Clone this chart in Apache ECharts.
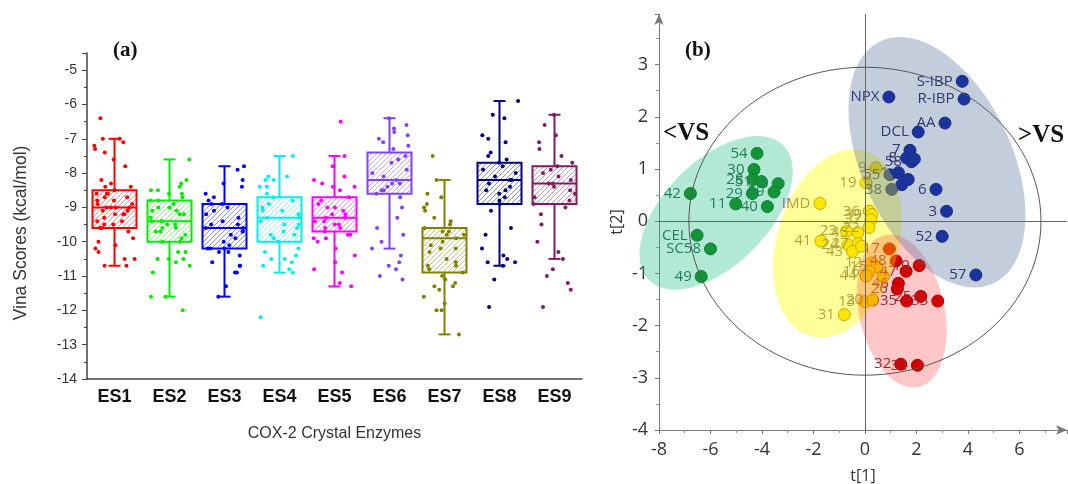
<!DOCTYPE html>
<html><head><meta charset="utf-8">
<script src="https://cdn.jsdelivr.net/npm/echarts@6.0.0/dist/echarts.min.js"></script>
<style>html,body{margin:0;padding:0;background:#fff}#c{width:1068px;height:484px}</style>
</head><body><div id="c"></div>
<script>
// ---------- Panel (a) data ----------
const categories = ['ES1','ES2','ES3','ES4','ES5','ES6','ES7','ES8','ES9'];
const boxColors = ['#ff0000','#00ee00','#0000ff','#00f0f0','#ff00ff','#8040ff','#808000','#000080','#801a66'];
// [low whisker, Q1, median, Q3, high whisker]
const boxStats = [
  [-10.7,-9.6,-9.0,-8.5,-7.0],
  [-11.6,-10.0,-9.4,-8.8,-7.6],
  [-11.6,-10.2,-9.6,-8.9,-7.8],
  [-10.9,-10.0,-9.3,-8.7,-7.5],
  [-11.3,-9.7,-9.3,-8.7,-7.5],
  [-10.2,-8.6,-8.2,-7.4,-6.4],
  [-12.7,-10.9,-9.9,-9.6,-8.2],
  [-10.7,-8.9,-8.2,-7.7,-5.9],
  [-10.5,-8.9,-8.3,-7.8,-6.3]
];
const es1Scores = [-6.4,-7.0,-7.0,-7.1,-7.2,-7.3,-7.4,-7.6,-7.8,-8.2,-8.3,-8.4,-8.4,-8.5,-8.6,-8.6,-8.6,-8.7,-8.7,-8.8,-8.8,-8.9,-8.9,-9.0,-9.0,-9.0,-9.0,-9.1,-9.1,-9.2,-9.2,-9.2,-9.3,-9.4,-9.4,-9.5,-9.5,-9.6,-9.6,-9.7,-9.9,-10.0,-10.1,-10.2,-10.3,-10.5,-10.5,-10.7,-10.7];
const es2Scores = [-7.6,-8.2,-8.3,-8.4,-8.5,-8.5,-8.6,-8.6,-8.7,-8.8,-8.8,-8.9,-9.0,-9.0,-9.1,-9.1,-9.2,-9.2,-9.3,-9.4,-9.4,-9.4,-9.5,-9.5,-9.6,-9.6,-9.7,-9.7,-9.8,-9.9,-10.0,-10.0,-10.3,-10.3,-10.5,-10.5,-10.5,-10.6,-10.7,-10.9,-11.6,-11.6,-12.0];
const es3Scores = [-7.8,-7.9,-8.2,-8.3,-8.4,-8.6,-8.7,-8.8,-8.9,-8.9,-9.0,-9.1,-9.2,-9.3,-9.4,-9.5,-9.5,-9.6,-9.6,-9.7,-9.7,-9.8,-9.9,-10.0,-10.1,-10.2,-10.2,-10.2,-10.3,-10.3,-10.4,-10.6,-10.7,-10.7,-10.9,-10.9,-11.3,-11.6];
const es4Scores = [-7.5,-8.1,-8.1,-8.2,-8.2,-8.4,-8.4,-8.6,-8.7,-8.8,-8.9,-9.0,-9.1,-9.1,-9.2,-9.3,-9.3,-9.4,-9.5,-9.5,-9.6,-9.7,-9.8,-9.8,-9.9,-10.0,-10.2,-10.3,-10.4,-10.5,-10.5,-10.6,-10.7,-10.8,-10.9,-12.2];
const es5Scores = [-6.5,-7.5,-7.8,-8.1,-8.2,-8.3,-8.4,-8.4,-8.5,-8.7,-8.8,-8.9,-9.0,-9.0,-9.1,-9.2,-9.2,-9.3,-9.3,-9.4,-9.4,-9.5,-9.5,-9.6,-9.6,-9.7,-9.8,-9.8,-9.9,-9.9,-10.0,-10.2,-10.4,-10.6,-10.8,-10.9,-11.2,-11.3];
const es6Scores = [-6.4,-6.6,-6.7,-6.8,-6.9,-7.0,-7.1,-7.2,-7.3,-7.5,-7.6,-7.7,-7.9,-8.0,-8.1,-8.2,-8.3,-8.3,-8.4,-8.5,-8.5,-8.6,-8.7,-9.0,-9.3,-9.6,-9.8,-10.0,-10.2,-10.4,-10.6,-10.7,-10.8,-11.0,-11.1];
const es7Scores = [-7.5,-8.2,-8.6,-8.7,-8.9,-9.0,-9.1,-9.3,-9.4,-9.5,-9.6,-9.7,-9.7,-9.8,-9.8,-9.9,-10.0,-10.1,-10.2,-10.2,-10.3,-10.5,-10.6,-10.7,-10.7,-10.8,-10.9,-11.0,-11.1,-11.2,-11.3,-11.3,-11.4,-11.6,-11.8,-12.0,-12.0,-12.7];
const es8Scores = [-5.9,-6.3,-6.4,-6.9,-7.0,-7.1,-7.4,-7.5,-7.6,-7.7,-7.8,-7.9,-8.0,-8.1,-8.2,-8.2,-8.3,-8.4,-8.5,-8.5,-8.6,-8.7,-8.8,-8.9,-9.1,-9.6,-9.8,-10.2,-10.4,-10.5,-10.6,-10.6,-10.7,-11.1,-11.9];
const es9Scores = [-6.3,-6.6,-6.9,-7.1,-7.3,-7.5,-7.7,-7.8,-7.9,-8.0,-8.1,-8.2,-8.3,-8.3,-8.4,-8.5,-8.6,-8.7,-8.8,-8.9,-9.0,-9.2,-9.5,-10.0,-10.3,-10.5,-10.8,-11.0,-11.2,-11.4,-11.9];
const allScores = [es1Scores,es2Scores,es3Scores,es4Scores,es5Scores,es6Scores,es7Scores,es8Scores,es9Scores];

// ---------- Panel (b) data: [label, t1, t2] ----------
const greenPts = [['42',-6.78,0.53],['54',-4.19,1.30],['30',-4.31,0.99],['28',-4.35,0.80],['51',-4.02,0.76],['5',-3.37,0.72],['29',-4.37,0.53],['59',-3.53,0.56],['11',-5.02,0.33],['40',-3.79,0.28],['CEL',-6.52,-0.27],['SC58',-6.0,-0.53],['49',-6.36,-1.06]];
const bluePts = [['NPX',0.93,2.38],['S-IBP',3.78,2.68],['R-IBP',3.85,2.34],['AA',3.11,1.88],['DCL',2.07,1.71],['7',1.75,1.36],['8',1.62,1.21],['58',1.81,1.14],['',1.92,1.19],['1',1.30,0.93],['55',0.97,0.89],['',1.43,0.70],['',1.68,0.80],['38',1.04,0.61],['6',2.76,0.61],['3',3.17,0.19],['52',3.0,-0.29],['57',4.31,-1.03]];
const yellowPts = [['9',0.43,1.02],['19',0.04,0.74],['IMD',-1.75,0.34],['36',0.17,0.19],['39',0.26,0.13],['37',0.23,0.03],['22',0.16,-0.12],['23',-0.71,-0.19],['45',-0.28,-0.22],['41',-1.71,-0.38],['24',-0.65,-0.45],['27',-0.26,-0.43],['43',-0.48,-0.58],['',-0.13,-0.48],['12',0.26,-0.80],['15',0.45,-0.87],['16',0.17,-0.96],['44',0.05,-1.05],['',0.71,-1.06],['13',0.0,-1.54],['20',0.30,-1.51],['31',-0.80,-1.79]];
const redPts = [['17',0.95,-0.53],['48',1.21,-0.76],['10',2.11,-0.85],['47',1.60,-0.96],['46',1.30,-1.19],['26',1.26,-1.30],['25',2.17,-1.44],['35',1.62,-1.53],['33',2.83,-1.53],['32',1.39,-2.74],['34',2.04,-2.76]];
// ellipses: [cx, cy, ux, uy, vx, vy] (centre and two half-axis vectors in t1/t2 units)
const groupEllipses = [
  [-5.78,0.16,2.61,1.29,1.43,-0.707],
  [-1.07,-0.427,1.07,1.77,2.26,-0.333],
  [1.43,-1.72,-0.65,1.456,1.62,0.177],
  [2.80,1.13,-2.20,2.32,2.64,0.613]
];
const ellipseFills = ['rgba(35,192,132,0.35)','rgba(255,255,0,0.4)','rgba(255,0,0,0.22)','rgba(72,98,145,0.32)'];
const hotelling = [[0,0,6.84,0,0,2.95]];

// ---------- helpers ----------
function hatch(color){
  const c=document.createElement('canvas'); c.width=5; c.height=5;
  const g=c.getContext('2d'); g.strokeStyle=color; g.globalAlpha=0.45; g.lineWidth=1;
  g.beginPath(); g.moveTo(0,5); g.lineTo(5,0); g.moveTo(-1,1); g.lineTo(1,-1); g.moveTo(4,6); g.lineTo(6,4); g.stroke();
  return {image:c, repeat:'repeat'};
}
const patterns = boxColors.map(hatch);
const boxData = boxStats.map((s,i)=>[i].concat(s));
const jitterData = [];
allScores.forEach((arr,i)=>arr.forEach(v=>jitterData.push([i,v])));

function ellipseRender(fills, strokeCol){
  return function(params, api){
    const cx=api.value(0), cy=api.value(1), ux=api.value(2), uy=api.value(3), vx=api.value(4), vy=api.value(5);
    const pts=[];
    for(let k=0;k<120;k++){
      const t=k/120*Math.PI*2;
      pts.push(api.coord([cx+ux*Math.cos(t)+vx*Math.sin(t), cy+uy*Math.cos(t)+vy*Math.sin(t)]));
    }
    return {type:'polygon', shape:{points:pts},
      style: fills ? {fill:fills[params.dataIndex], stroke:null} : {fill:null, stroke:strokeCol, lineWidth:1}};
  };
}
function ptSeries(name, pts, fill, border, labelCol){
  return {type:'scatter', name, xAxisIndex:1, yAxisIndex:1, z:2,
    data: pts.map(p=>[p[1],p[2],p[0]]), symbolSize:12,
    itemStyle:{color:fill, borderColor:border, borderWidth:1, opacity:1},
    label:{show:true, position:'left', distance:3, formatter:p=>p.value[2], color:labelCol,
      fontFamily:'Open Sans', fontSize:15},
    emphasis:{disabled:true}};
}

const chart = echarts.init(document.getElementById('c'), null, {renderer:'canvas'});
const axisA = '#444';
const option = {
  animation:false,
  grid:[
    {left:87, top:53, width:495, height:326, outerBoundsMode:'none', containLabel:false},
    {left:659, top:14, width:408, height:416, outerBoundsMode:'none', containLabel:false}
  ],
  xAxis:[
    {type:'category', gridIndex:0, data:categories, jitter:42,
      axisLine:{lineStyle:{color:axisA,width:1.5}},
      axisTick:{alignWithLabel:true, length:6, lineStyle:{color:axisA,width:1.5}},
      axisLabel:{margin:9, color:'#111', fontWeight:'bold', fontSize:18, fontFamily:'Liberation Sans'},
      name:'COX-2 Crystal Enzymes', nameLocation:'middle', nameGap:47,
      nameTextStyle:{fontSize:16, color:'#333', fontFamily:'Liberation Sans'},
      splitLine:{show:false}},
    {type:'value', gridIndex:1, min:-8, max:7.85, interval:2,
      axisLine:{onZero:false, symbol:['none','arrow'], symbolSize:[7,11], lineStyle:{color:'#777'}},
      axisTick:{length:4, lineStyle:{color:'#777'}},
      minorTick:{show:true, splitNumber:2, length:3, lineStyle:{color:'#999'}},
      axisLabel:{margin:11, color:'#333', fontSize:18, fontFamily:'Open Sans', showMaxLabel:false},
      name:'t[1]', nameLocation:'middle', nameGap:38,
      nameTextStyle:{fontSize:16, color:'#333', fontFamily:'Open Sans'},
      splitLine:{show:false}}
  ],
  yAxis:[
    {type:'value', gridIndex:0, min:-14, max:-4.5, interval:1,
      axisLine:{show:true, lineStyle:{color:axisA,width:1.5}},
      axisTick:{show:true, length:5, lineStyle:{color:axisA}},
      minorTick:{show:true, splitNumber:2, length:3, lineStyle:{color:axisA}},
      axisLabel:{margin:10, color:'#333', fontSize:14, fontFamily:'Liberation Sans', showMaxLabel:false},
      splitLine:{show:false}},
    {type:'value', gridIndex:1, min:-4, max:3.97, interval:1,
      axisLine:{onZero:false, show:true, symbol:['none','arrow'], symbolSize:[7,11], lineStyle:{color:'#777'}},
      axisTick:{show:true, length:4, lineStyle:{color:'#777'}},
      minorTick:{show:true, splitNumber:2, length:3, lineStyle:{color:'#999'}},
      axisLabel:{margin:11, color:'#333', fontSize:18, fontFamily:'Open Sans', showMaxLabel:false},
      name:'t[2]', nameLocation:'middle', nameGap:34,
      nameTextStyle:{fontSize:16, color:'#333', fontFamily:'Open Sans'},
      splitLine:{show:false}}
  ],
  graphic:[
    {type:'text', left:113, top:40, style:{text:'(a)', font:'bold 21px "Liberation Serif"', fill:'#111'}},
    {type:'text', x:21, y:233, rotation:Math.PI/2, style:{text:'Vina Scores (kcal/mol)', font:'17.5px "Liberation Sans"', fill:'#333', align:'center', verticalAlign:'middle'}},
    {type:'text', left:685, top:40, style:{text:'(b)', font:'bold 21px "Liberation Serif"', fill:'#111'}},
    {type:'text', left:663, top:121, style:{text:'<VS', font:'bold 25px "Liberation Serif"', fill:'#111'}},
    {type:'text', left:1018, top:123, style:{text:'>VS', font:'bold 25px "Liberation Serif"', fill:'#111'}}
  ],
  series:[
    {type:'custom', name:'boxes', xAxisIndex:0, yAxisIndex:0, z:2, data:boxData,
      encode:{x:0, y:[1,2,3,4,5]},
      renderItem:function(params, api){
        const i=api.value(0);
        const lo=api.coord([i,api.value(1)]), q1=api.coord([i,api.value(2)]), md=api.coord([i,api.value(3)]),
              q3=api.coord([i,api.value(4)]), hi=api.coord([i,api.value(5)]);
        const bw=api.size([1,0])[0]*0.8, cx=lo[0], cap=6, col=boxColors[i];
        const ls={stroke:col, lineWidth:2};
        return {type:'group', children:[
          {type:'line', shape:{x1:cx,y1:hi[1],x2:cx,y2:q3[1]}, style:ls},
          {type:'line', shape:{x1:cx,y1:q1[1],x2:cx,y2:lo[1]}, style:ls},
          {type:'line', shape:{x1:cx-cap,y1:hi[1],x2:cx+cap,y2:hi[1]}, style:ls},
          {type:'line', shape:{x1:cx-cap,y1:lo[1],x2:cx+cap,y2:lo[1]}, style:ls},
          {type:'rect', shape:{x:cx-bw/2,y:q3[1],width:bw,height:q1[1]-q3[1]}, style:{fill:patterns[i], stroke:col, lineWidth:2}},
          {type:'line', shape:{x1:cx-bw/2,y1:md[1],x2:cx+bw/2,y2:md[1]}, style:ls}
        ]};
      }},
    {type:'scatter', name:'scores', xAxisIndex:0, yAxisIndex:0, z:3, data:jitterData,
      symbol:'circle', symbolSize:4,
      itemStyle:{color:p=>boxColors[p.value[0]], opacity:1},
      emphasis:{disabled:true}},
    ptSeries('green', greenPts, '#0c7f0e', '#005a10', '#235943'),
    ptSeries('blue', bluePts, '#051da6', '#03136e', '#21255f'),
    ptSeries('yellow', yellowPts, '#f7d500', '#a37100', '#82615f'),
    ptSeries('red', redPts, '#cc0000', '#880000', '#853340'),
    {type:'custom', name:'groups', xAxisIndex:1, yAxisIndex:1, z:4, data:groupEllipses,
      encode:{x:0,y:1}, renderItem:ellipseRender(ellipseFills), silent:true},
    {type:'custom', name:'hotelling', xAxisIndex:1, yAxisIndex:1, z:5, data:hotelling,
      encode:{x:0,y:1}, renderItem:ellipseRender(null,'#555'), silent:true},
    {type:'scatter', name:'axes0', xAxisIndex:1, yAxisIndex:1, z:6, data:[],
      markLine:{silent:true, symbol:['none','none'], label:{show:false},
        lineStyle:{color:'#666', width:1, type:'solid'},
        data:[{xAxis:0},{yAxis:0}]}}
  ]
};
chart.setOption(option);
</script>
</body></html>
